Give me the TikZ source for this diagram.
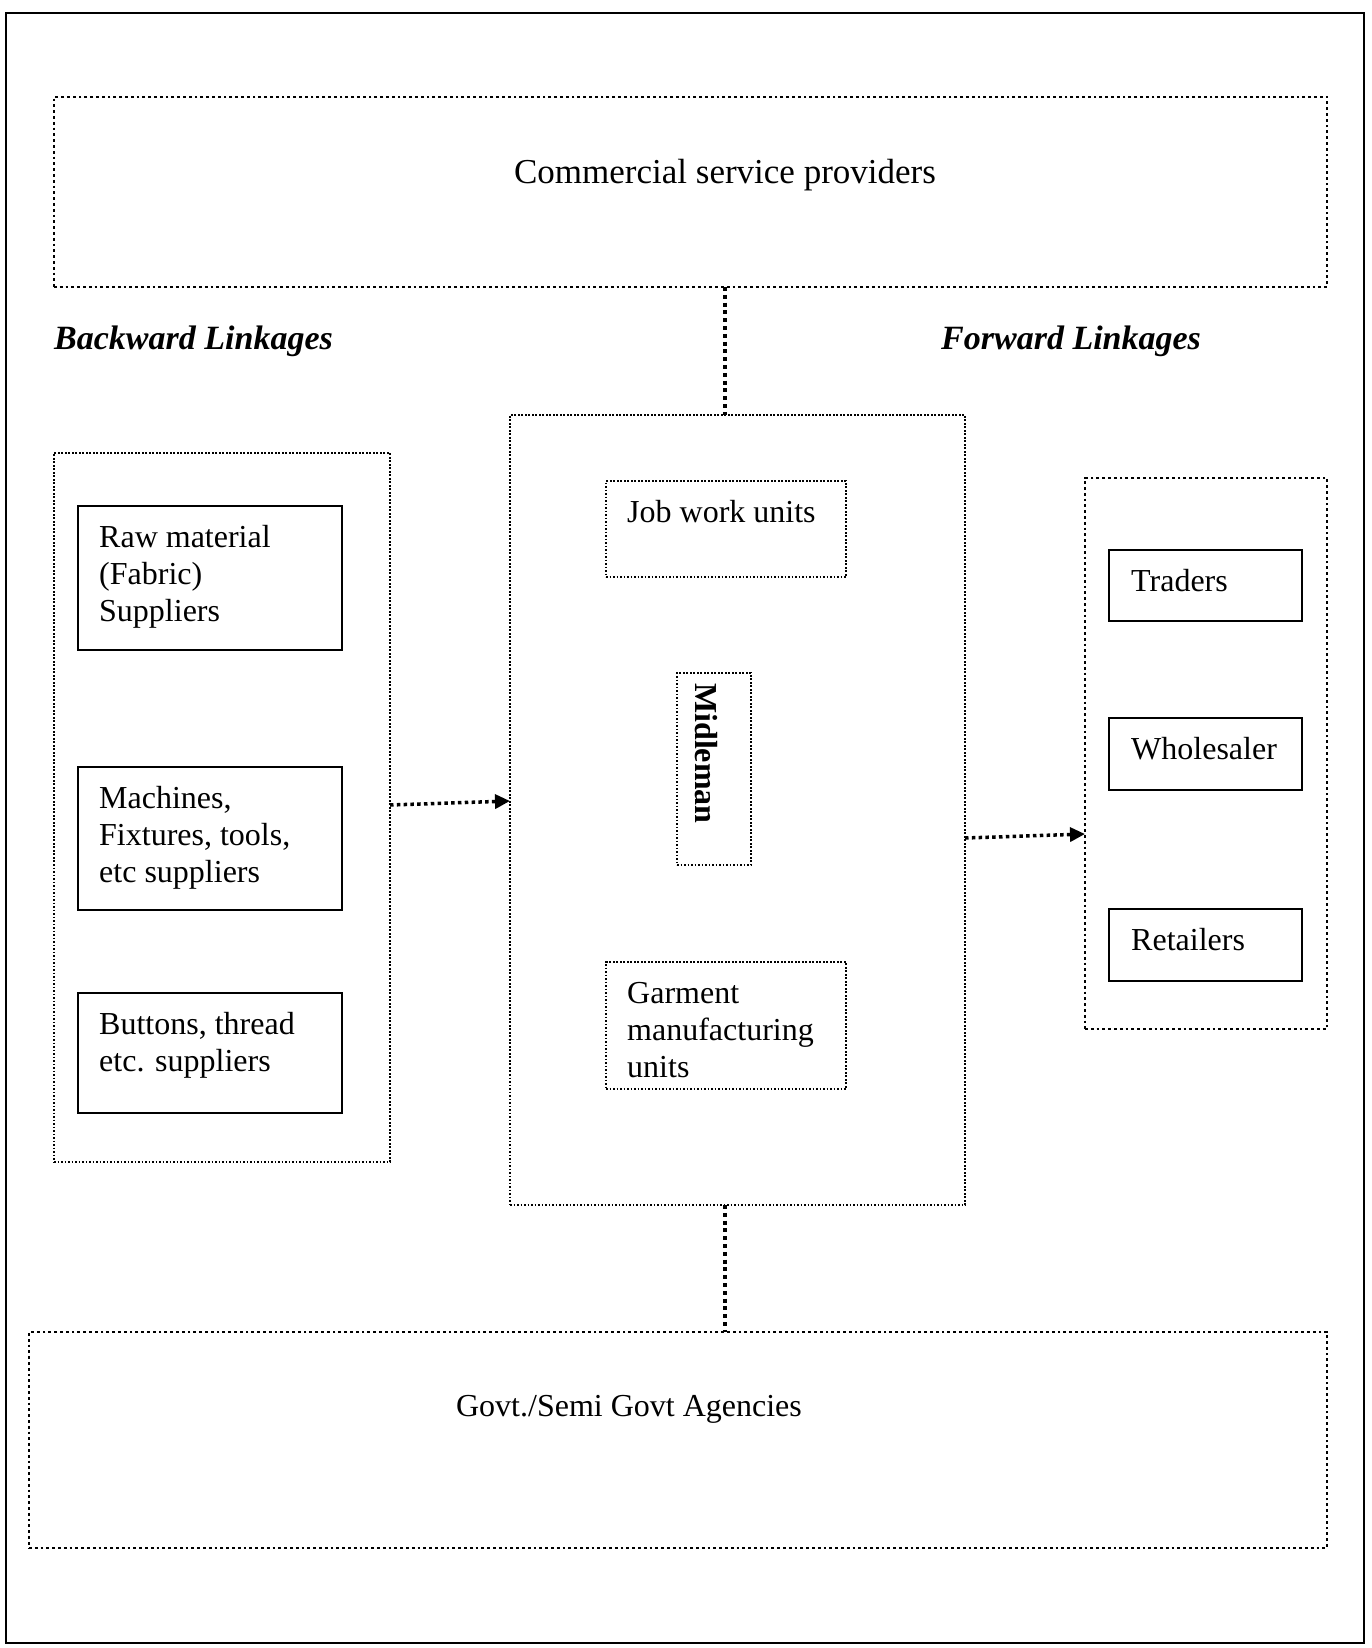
\documentclass[tikz,border=0pt]{standalone}
\usepackage{fontspec}
\setmainfont{Liberation Serif}
\usetikzlibrary{arrows.meta}
\begin{document}
\begin{tikzpicture}[x=1pt,y=-1pt,
  boxbase/.style={anchor=north west, inner sep=0pt, outer sep=0pt},
  solidbox/.style={boxbase, draw, line width=2pt},
  thindot/.style={boxbase, draw, line width=1.9pt, dash pattern=on 1.9pt off 1.6pt},
  meddot/.style={boxbase, draw, line width=2.8pt, dash pattern=on 2.8pt off 3pt},
  conn/.style={line width=4pt, dash pattern=on 4pt off 3.8pt},
  arr/.style={line width=3.5pt, dash pattern=on 3.5pt off 3.3pt, -{Triangle[length=15pt,width=14pt]}},
  txt/.style={font=\fontsize{32}{37}\selectfont, inner sep=0pt, anchor=base west},
  bigtxt/.style={font=\fontsize{35}{40}\selectfont, inner sep=0pt},
  headtxt/.style={font=\fontsize{34}{40}\selectfont\bfseries\itshape, inner sep=0pt, anchor=west}]
\useasboundingbox (0,0) rectangle (1372,1648);
\draw[line width=2pt] (6,13) rectangle (1364,1643);

% outer boxes
\node[meddot, minimum width=1273pt, minimum height=190pt] (comm) at (54,97) {};
\node[meddot, minimum width=1298pt, minimum height=216pt] (govt) at (29,1332) {};
\node[thindot, minimum width=455pt, minimum height=790pt] (center) at (510,415) {};
\node[thindot, minimum width=336pt, minimum height=709pt] (left) at (54,453) {};
\node[meddot, minimum width=242pt, minimum height=551pt] (right) at (1085,478) {};

% left boxes
\node[solidbox, minimum width=264pt, minimum height=144pt] (raw) at (78,506) {};
\node[solidbox, minimum width=264pt, minimum height=143pt] (mach) at (78,767) {};
\node[solidbox, minimum width=264pt, minimum height=120pt] (butt) at (78,993) {};

% center boxes
\node[thindot, minimum width=240pt, minimum height=96pt] (job) at (606,481) {};
\node[thindot, minimum width=74pt, minimum height=192pt] (mid) at (677,673) {};
\node[thindot, minimum width=240pt, minimum height=127pt] (garm) at (606,962) {};

% right boxes
\node[solidbox, minimum width=193pt, minimum height=71pt] (trad) at (1109,550) {};
\node[solidbox, minimum width=193pt, minimum height=72pt] (whol) at (1109,718) {};
\node[solidbox, minimum width=193pt, minimum height=72pt] (ret) at (1109,909) {};

% texts
\node[bigtxt] (commt) at (725,175) {Commercial service providers};
\node[bigtxt, font=\fontsize{32}{37}\selectfont] (govtt) at (629,1409) {Govt./Semi Govt Agencies};
\node[headtxt] (back) at (54,341) {Backward Linkages};
\node[headtxt] (forw) at (941,341) {Forward Linkages};

\node[txt] (rawt) at ([shift={(21,41)}]raw.north west) {\begin{tabular}[t]{@{}l@{}}Raw material\\(Fabric)\\Suppliers\end{tabular}};
\node[txt] (macht) at ([shift={(21,41)}]mach.north west) {\begin{tabular}[t]{@{}l@{}}Machines,\\Fixtures, tools,\\etc suppliers\end{tabular}};
\node[txt] (buttt) at ([shift={(21,41)}]butt.north west) {\begin{tabular}[t]{@{}l@{}}Buttons, thread\\etc. suppliers\end{tabular}};
\node[txt] (jobt) at ([shift={(21,41)}]job.north west) {Job work units};
\node[txt] (garmt) at ([shift={(21,41)}]garm.north west) {\begin{tabular}[t]{@{}l@{}}Garment\\manufacturing\\units\end{tabular}};
\node[txt] (tradt) at ([shift={(22,41)}]trad.north west) {Traders};
\node[txt] (wholt) at ([shift={(22,41)}]whol.north west) {Wholesaler};
\node[txt] (rett) at ([shift={(22,41)}]ret.north west) {Retailers};
\node[font=\fontsize{32}{37}\selectfont\bfseries, inner sep=0pt, rotate=-90, anchor=west] (midt) at (706,683) {Midleman};

% connectors
\coordinate (cx) at (725,0);
\draw[conn] (cx |- comm.south) -- (cx |- center.north);
\draw[conn] (cx |- center.south) -- (cx |- govt.north);
\draw[arr] (left.east |- 0,805) -- (center.west |- 0,801);
\draw[arr] (center.east |- 0,838) -- (right.west |- 0,834);
\end{tikzpicture}
\end{document}
